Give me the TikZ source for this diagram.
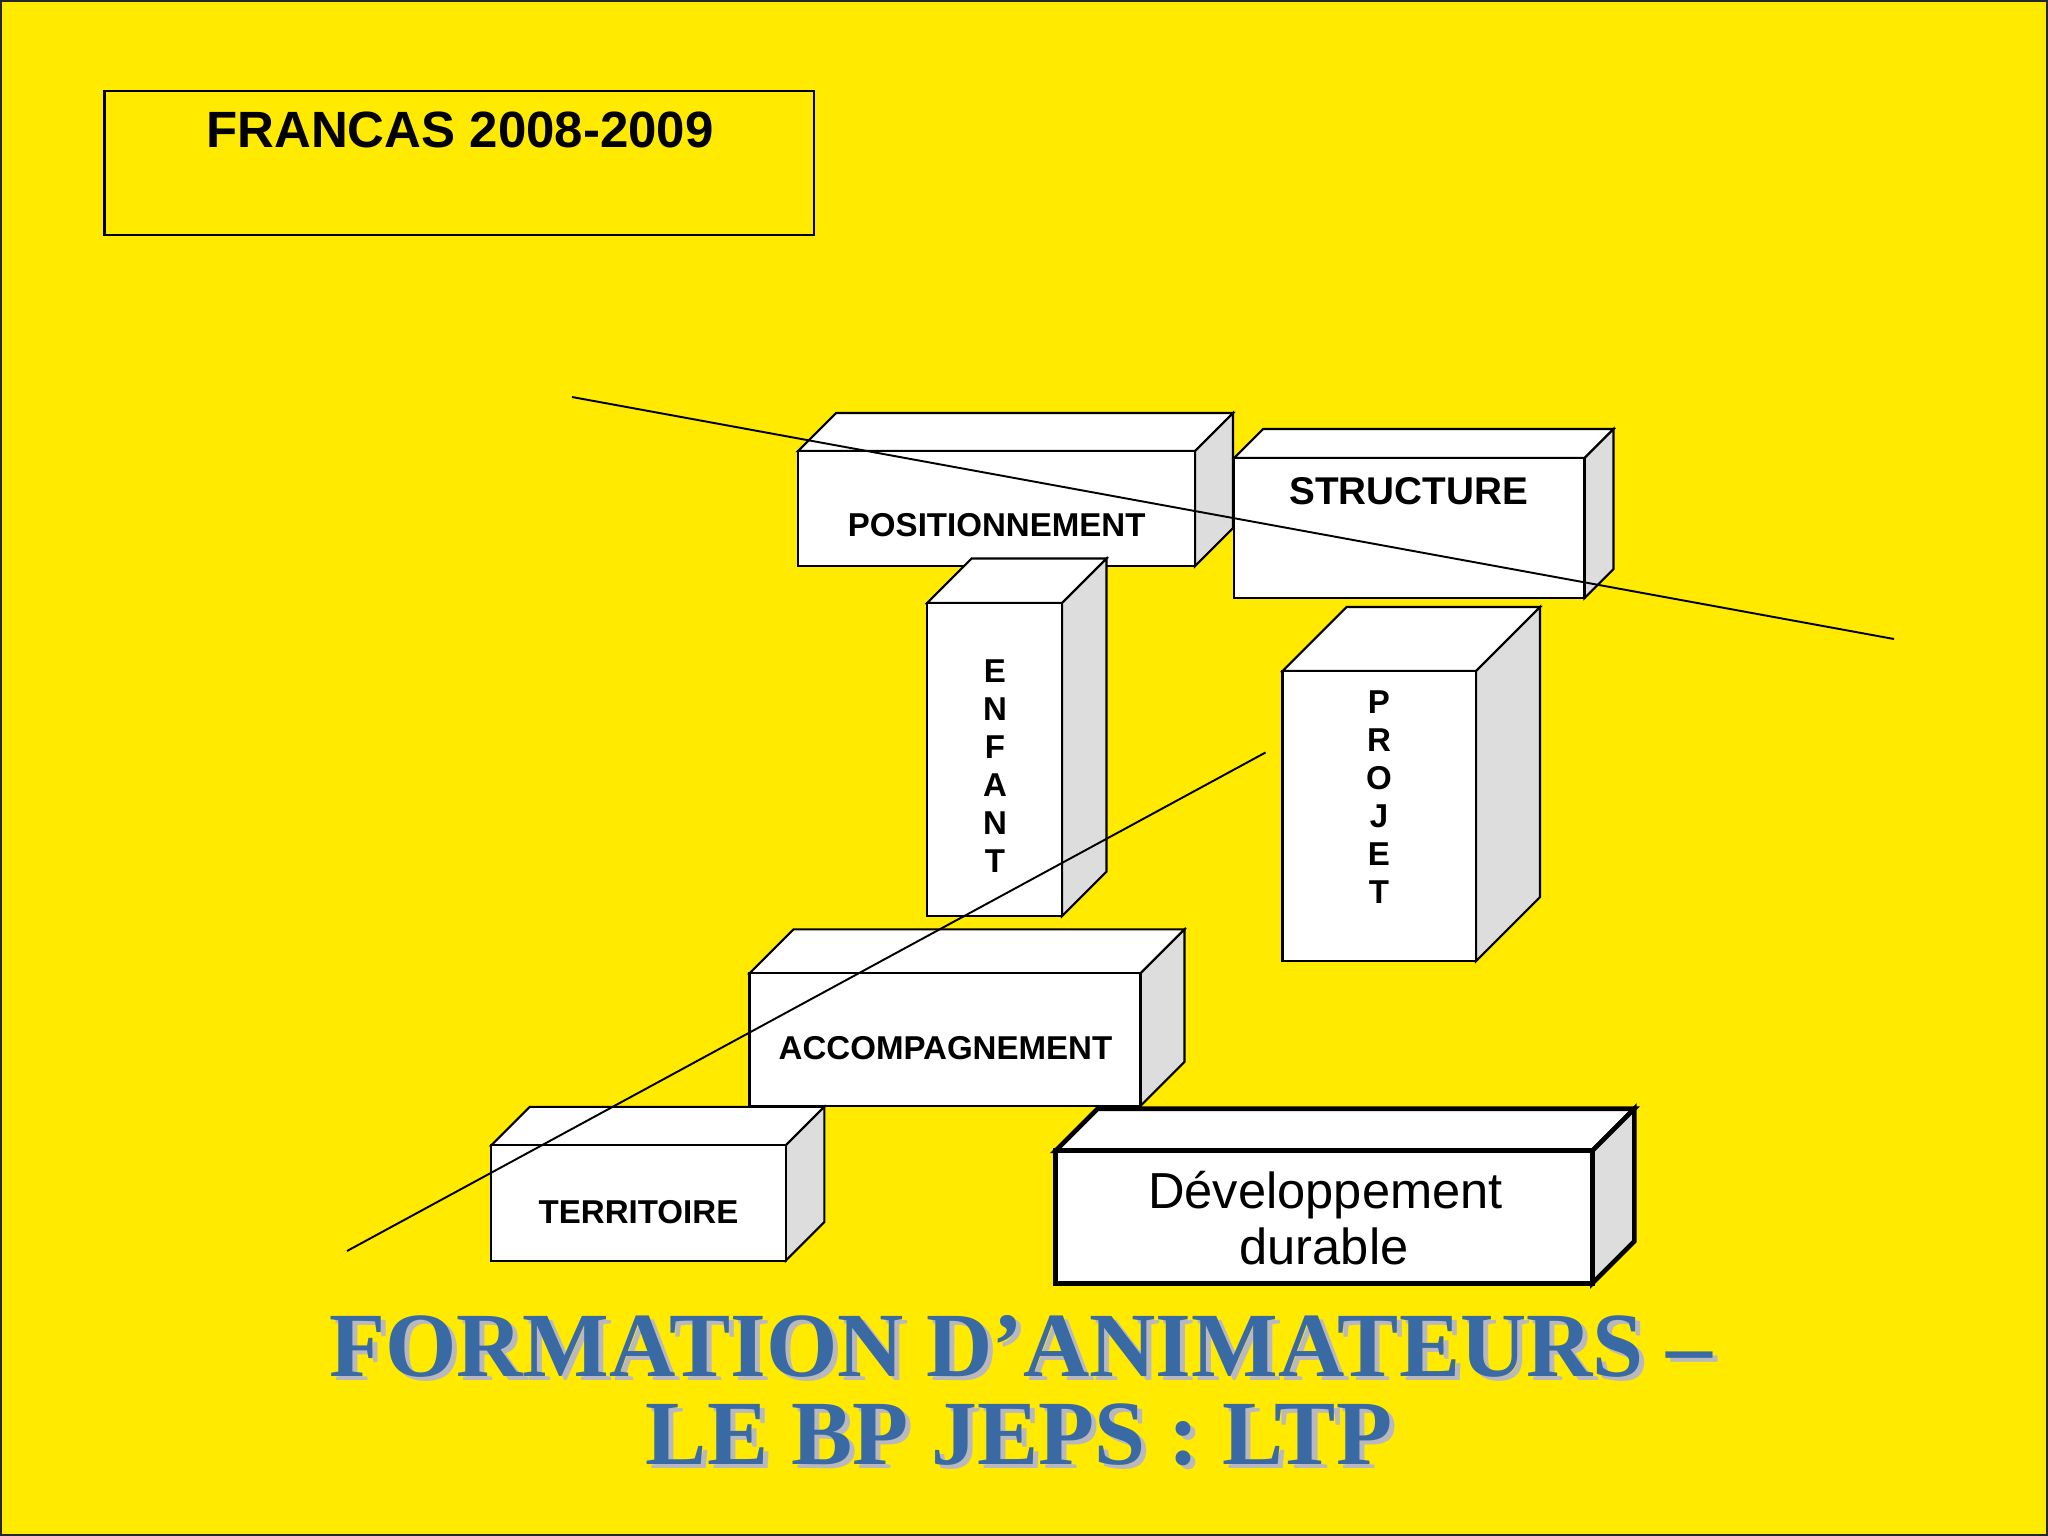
\documentclass[tikz,border=0pt]{standalone}
\usepackage{fontspec}
\setmainfont{Liberation Sans}
\newfontfamily\titlefont{Liberation Serif}
\usetikzlibrary{fit,calc}
\definecolor{bgyellow}{RGB}{255,234,0}
\definecolor{sidegray}{RGB}{221,221,221}
\definecolor{titleblue}{RGB}{57,106,163}
\definecolor{shadowgray}{RGB}{184,184,190}
\tikzset{
  boxline/.style={draw=black,line width=0.6pt},
  frontface/.style={boxline,fill=white,inner sep=0pt,rectangle},
  lbl/.style={font=\fontsize{9.4}{10.8}\selectfont\bfseries,inner sep=0pt},
  stacklbl/.style={lbl,align=center},
  devlbl/.style={font=\fontsize{14.4}{16.4}\selectfont,inner sep=0pt,anchor=base},
  crossline/.style={draw=black,line width=0.55pt},
  titletxt/.style={font=\fontsize{26.1}{29}\selectfont\titlefont\bfseries,inner sep=0pt,anchor=base},
}
% #1 extra style, #2 name, #3 x1, #4 y1, #5 x2, #6 y2 (front face, pixel coords), #7 depth
\newcommand\cuboid[7][]{%
  \coordinate (#2-a) at (#3,#4);
  \coordinate (#2-b) at (#5,#6);
  \filldraw[boxline,fill=white,#1] (#3,#4) -- ++(#7,-#7) -- ++({#5-#3},0) -- (#5,#4) -- cycle;
  \filldraw[boxline,fill=sidegray,#1] (#5,#4) -- ++(#7,-#7) -- ++(0,{#6-#4}) -- (#5,#6) -- cycle;
  \node[frontface,#1,fit=(#2-a)(#2-b)] (#2) {};
}
\begin{document}
\begin{tikzpicture}[x=0.01cm,y=-0.01cm]
  % background and frame
  \fill[bgyellow] (0,0) rectangle (2048,1536);
  \useasboundingbox (0,0) rectangle (2048,1536);
  \draw[line width=0.4pt,black!85] (1,1) rectangle (2047,1535);

  % FRANCAS box
  \coordinate (fa) at (104.5,90.7);
  \coordinate (fb) at (814,235);
  \node[boxline,inner sep=0pt,fit=(fa)(fb)] (frbox) {};
  \node[font=\fontsize{14.5}{16.5}\selectfont\bfseries,inner sep=0pt,anchor=base] (francas) at (460,147.5) {FRANCAS 2008-2009};

  % cuboids
  \cuboid{pos}{798}{451}{1195}{566}{38}
  \node[lbl] (poslbl) at (996.7,525.6) {POSITIONNEMENT};

  \cuboid{str}{1234}{458}{1584.5}{598}{29}
  \node[lbl,font=\fontsize{11}{13}\selectfont\bfseries] (strlbl) at (1408.6,490.7) {STRUCTURE};

  \cuboid{enf}{927}{603}{1062}{916}{44.5}
  \node[stacklbl] (enflbl) at (995,766.3) {E\\N\\F\\A\\N\\T};

  \cuboid{proj}{1282.5}{671}{1476}{961}{64}
  \node[stacklbl] (projlbl) at (1379,796.8) {P\\R\\O\\J\\E\\T};

  \cuboid{acc}{749.5}{973.3}{1140.5}{1105.8}{44}
  \node[lbl] (acclbl) at (945.5,1047.7) {ACCOMPAGNEMENT};

  \cuboid{ter}{491.3}{1145.3}{785.8}{1260.6}{38.5}
  \node[lbl] (terlbl) at (638.5,1212.5) {TERRITOIRE};

  \cuboid[line width=1.3pt]{dev}{1055.7}{1150.7}{1592.3}{1283.3}{42}
  \node[devlbl] (devlbl1) at (1325.5,1208) {Développement};
  \node[devlbl] (devlbl2) at (1324,1264) {durable};

  % crossing lines
  \coordinate (l1a) at (572,397);
  \coordinate (l1b) at (1894,639);
  \draw[crossline] (l1a) -- (l1b);
  \coordinate (l2a) at (347,1251);
  \coordinate (l2b) at (1265.5,752.5);
  \draw[crossline] (l2a) -- (l2b);

  % title with shadow
  \node[titletxt,text=shadowgray] (t1s) at (1026,1380) {FORMATION D’ANIMATEURS –};
  \node[titletxt,text=shadowgray] (t2s) at (1024,1468) {LE BP JEPS : LTP};
  \node[titletxt,text=titleblue] (t1) at (1021,1376) {FORMATION D’ANIMATEURS –};
  \node[titletxt,text=titleblue] (t2) at (1019,1464) {LE BP JEPS : LTP};
\end{tikzpicture}
\end{document}
